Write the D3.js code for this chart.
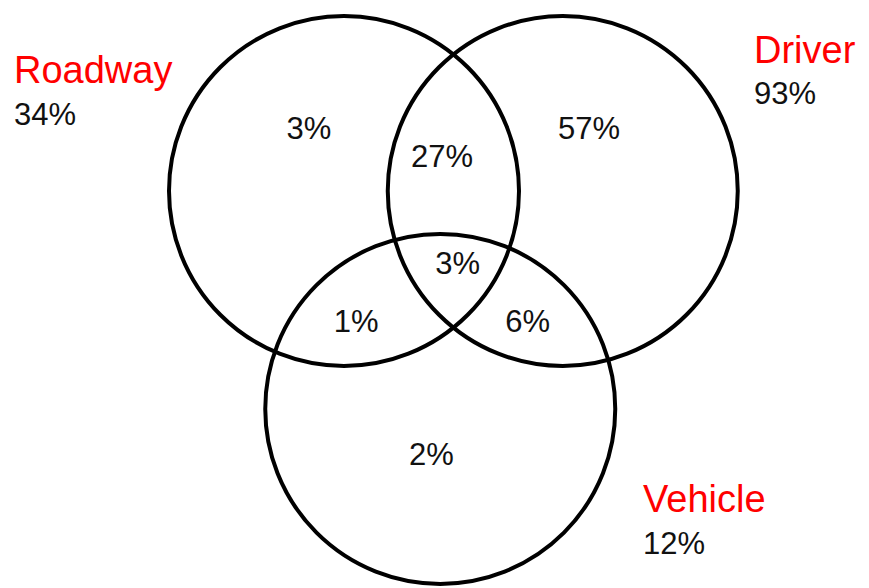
<!DOCTYPE html>
<html>
<head>
<meta charset="utf-8">
<script src="https://cdn.jsdelivr.net/npm/d3@7"></script>
<style>
  body { margin: 0; background: #fff; }
  svg text { font-family: "Liberation Sans", Arial, sans-serif; }
</style>
</head>
<body>
<script>
// sets and their totals
const setNames = ['Roadway', 'Driver', 'Vehicle'];
const setTotals = ['34%', '93%', '12%'];

// region shares, keyed by which sets they belong to
const regionSets = [['Roadway'], ['Roadway', 'Driver'], ['Driver'], ['Roadway', 'Driver', 'Vehicle'], ['Roadway', 'Vehicle'], ['Driver', 'Vehicle'], ['Vehicle']];
const regionValues = ['3%', '27%', '57%', '3%', '1%', '6%', '2%'];

const width = 869, height = 588;

// layout in unit space, mapped to pixels with scales
const circleLayout = {
  Roadway: { cx: 0, cy: 0 },
  Driver: { cx: 1.25, cy: 0 },
  Vehicle: { cx: 0.55, cy: 1.245 }
};
const radius = 1;
const x = d3.scaleLinear().domain([0, 1]).range([344, 519]);
const y = d3.scaleLinear().domain([0, 1]).range([191, 366]);
const r = d => x(d) - x(0);

// label spots for each region (unit space)
const regionPos = [
  [-0.2, -0.36], [0.56, -0.2], [1.4, -0.36], [0.65, 0.41], [0.07, 0.74], [1.05, 0.74], [0.5, 1.5]
];
const namePos = {
  Roadway: { x: 14, y: 83, ty: 125 },
  Driver: { x: 754, y: 63, ty: 104 },
  Vehicle: { x: 643, y: 512, ty: 554 }
};

const svg = d3.select('body')
  .append('svg')
  .attr('width', width)
  .attr('height', height);

svg.append('rect')
  .attr('width', width)
  .attr('height', height)
  .attr('fill', 'white');

svg.selectAll('circle.set')
  .data(setNames)
  .enter()
  .append('circle')
  .attr('class', 'set')
  .attr('cx', d => x(circleLayout[d].cx))
  .attr('cy', d => y(circleLayout[d].cy))
  .attr('r', r(radius))
  .attr('fill', 'none')
  .attr('stroke', 'black')
  .attr('stroke-width', 4);

svg.selectAll('text.region')
  .data(regionValues)
  .enter()
  .append('text')
  .attr('class', 'region')
  .attr('x', (d, i) => x(regionPos[i][0]))
  .attr('y', (d, i) => y(regionPos[i][1]))
  .attr('dy', '0.36em')
  .attr('text-anchor', 'middle')
  .attr('font-size', 31)
  .attr('fill', '#111')
  .text(d => d);

const labels = svg.selectAll('g.setlabel')
  .data(setNames)
  .enter()
  .append('g')
  .attr('class', 'setlabel');

labels.append('text')
  .attr('x', d => namePos[d].x)
  .attr('y', d => namePos[d].y)
  .attr('font-size', 38)
  .attr('fill', '#ff0000')
  .text(d => d);

labels.append('text')
  .attr('x', d => namePos[d].x)
  .attr('y', d => namePos[d].ty)
  .attr('font-size', 31)
  .attr('fill', '#111')
  .text((d, i) => setTotals[i]);
</script>
</body>
</html>
